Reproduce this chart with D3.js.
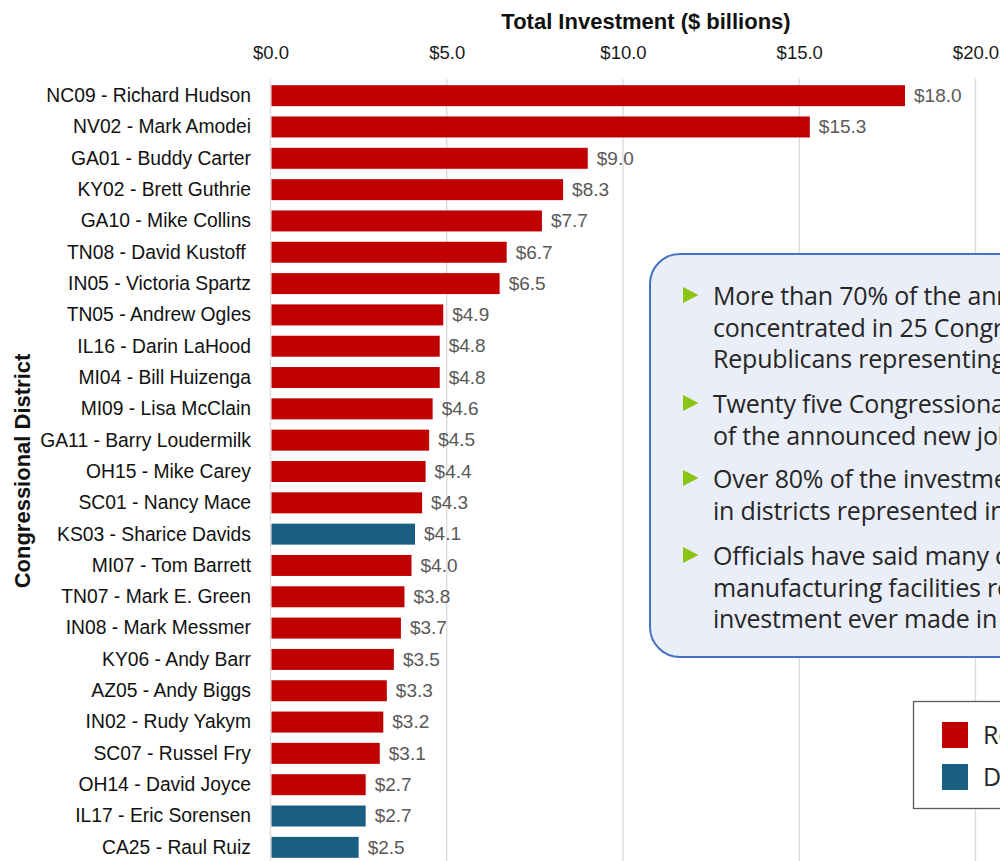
<!DOCTYPE html>
<html>
<head>
<meta charset="utf-8">
<script src="https://cdn.jsdelivr.net/npm/d3@7"></script>
<style>
  body { margin: 0; background: #fff; }
  svg { display: block; }
</style>
</head>
<body>
<script>
// district labels, top to bottom
var districts = [
  "NC09 - Richard Hudson", "NV02 - Mark Amodei", "GA01 - Buddy Carter", "KY02 - Brett Guthrie",
  "GA10 - Mike Collins", "TN08 - David Kustoff ", "IN05 - Victoria Spartz", "TN05 - Andrew Ogles",
  "IL16 - Darin LaHood", "MI04 - Bill Huizenga", "MI09 - Lisa McClain", "GA11 - Barry Loudermilk",
  "OH15 - Mike Carey", "SC01 - Nancy Mace", "KS03 - Sharice Davids", "MI07 - Tom Barrett",
  "TN07 - Mark E. Green", "IN08 - Mark Messmer", "KY06 - Andy Barr", "AZ05 - Andy Biggs",
  "IN02 - Rudy Yakym", "SC07 - Russel Fry", "OH14 - David Joyce", "IL17 - Eric Sorensen",
  "CA25 - Raul Ruiz"
];
// total investment, $ billions
var investment = [18.0, 15.3, 9.0, 8.3, 7.7, 6.7, 6.5, 4.9, 4.8, 4.8, 4.6, 4.5, 4.4, 4.3, 4.1,
  4.0, 3.8, 3.7, 3.5, 3.3, 3.2, 3.1, 2.7, 2.7, 2.5];
var party = ["R", "R", "R", "R", "R", "R", "R", "R", "R", "R", "R", "R", "R", "R", "D",
  "R", "R", "R", "R", "R", "R", "R", "R", "D", "D"];
var xTicks = [0, 5, 10, 15, 20];
var legendItems = [{ key: "R", name: "Republican" }, { key: "D", name: "Democrat" }];
var bullets = [
  ["More than 70% of the announced investment is", "concentrated in 25 Congressional districts, with",
   "Republicans representing 22 of them"],
  ["Twenty five Congressional districts account for most", "of the announced new jobs"],
  ["Over 80% of the investment is located", "in districts represented in Congress by Republicans"],
  ["Officials have said many of these", "manufacturing facilities represent the largest", "investment ever made in their communities"]
];

var W = 1000, H = 861;
var color = d3.scaleOrdinal().domain(["R", "D"]).range(["#c00000", "#1a5f82"]);

var svg = d3.select("body").append("svg")
  .attr("width", W)
  .attr("height", H);

var x = d3.scaleLinear().domain([0, 20]).range([270.5, 975.5]);
var y = d3.scaleBand().domain(districts).range([80, 863]).paddingInner(0.33).paddingOuter(0.165);

var rows = districts.map(function (d, i) {
  return { name: d, value: investment[i], party: party[i] };
});

// gridlines
svg.append("g").selectAll("line")
  .data(xTicks)
  .enter().append("line")
  .attr("x1", function (d) { return x(d); })
  .attr("x2", function (d) { return x(d); })
  .attr("y1", 79)
  .attr("y2", H)
  .attr("stroke", "#d9d9d9")
  .attr("stroke-width", 1.3);

// top axis
var xAxis = d3.axisTop(x).tickValues(xTicks).tickSize(0).tickPadding(0)
  .tickFormat(function (d) { return "$" + d3.format(".1f")(d); });
svg.append("g")
  .attr("transform", "translate(0,59)")
  .call(xAxis)
  .call(function (g) { g.select(".domain").remove(); })
  .selectAll("text")
  .attr("font-family", "Liberation Sans, Arial, sans-serif")
  .attr("font-size", 18.5)
  .attr("fill", "#1a1a1a");

svg.append("text")
  .attr("x", 646)
  .attr("y", 29)
  .attr("text-anchor", "middle")
  .attr("font-family", "Liberation Sans, Arial, sans-serif")
  .attr("font-weight", "bold")
  .attr("font-size", 22)
  .attr("fill", "#111")
  .text("Total Investment ($ billions)");

svg.append("text")
  .attr("transform", "translate(30,471) rotate(-90)")
  .attr("text-anchor", "middle")
  .attr("font-family", "Liberation Sans, Arial, sans-serif")
  .attr("font-weight", "bold")
  .attr("font-size", 22)
  .attr("fill", "#111")
  .text("Congressional District");

// bars
var bar = svg.append("g").selectAll("g")
  .data(rows)
  .enter().append("g");

bar.append("rect")
  .attr("x", x(0) + 1)
  .attr("y", function (d) { return y(d.name); })
  .attr("width", function (d) { return x(d.value) - x(0) - 1; })
  .attr("height", y.bandwidth())
  .attr("fill", function (d) { return color(d.party); });

bar.append("text")
  .attr("x", function (d) { return x(d.value) + 9; })
  .attr("y", function (d) { return y(d.name) + y.bandwidth() / 2; })
  .attr("dy", "0.33em")
  .attr("font-family", "Liberation Sans, Arial, sans-serif")
  .attr("font-size", 19)
  .attr("fill", "#595959")
  .text(function (d) { return "$" + d3.format(".1f")(d.value); });

bar.append("text")
  .attr("x", 251)
  .attr("y", function (d) { return y(d.name) + y.bandwidth() / 2; })
  .attr("dy", "0.33em")
  .attr("text-anchor", "end")
  .attr("font-family", "Liberation Sans, Arial, sans-serif")
  .attr("font-size", 19.3)
  .attr("fill", "#111")
  .style("white-space", "pre")
  .text(function (d) { return d.name; });

// callout box
var callout = svg.append("g");
callout.append("rect")
  .attr("x", 650)
  .attr("y", 254)
  .attr("width", 420)
  .attr("height", 403)
  .attr("rx", 30)
  .attr("fill", "#eaeef8")
  .attr("stroke", "#4472c4")
  .attr("stroke-width", 2);

var bulletTop = [305, 413, 488, 565];
var lineGap = 31.6;
bullets.forEach(function (lines, i) {
  var by = bulletTop[i];
  callout.append("path")
    .attr("d", "M683," + (by - 18) + "L698.5," + (by - 10) + "L683," + (by - 2) + "Z")
    .attr("fill", "#8cc414");
  var t = callout.append("text")
    .attr("font-family", "Open Sans, sans-serif")
    .attr("font-size", 25)
    .attr("letter-spacing", -0.2)
    .attr("fill", "#262626");
  lines.forEach(function (line, j) {
    t.append("tspan")
      .attr("x", 713)
      .attr("y", by + j * lineGap)
      .text(line);
  });
});

// legend
var legend = svg.append("g");
legend.append("rect")
  .attr("x", 913.5)
  .attr("y", 701.5)
  .attr("width", 120)
  .attr("height", 107)
  .attr("fill", "#fff")
  .attr("stroke", "#595959")
  .attr("stroke-width", 1.3);

var item = legend.selectAll("g.item")
  .data(legendItems)
  .enter().append("g")
  .attr("class", "item")
  .attr("transform", function (d, i) { return "translate(942," + (722 + i * 42) + ")"; });
item.append("rect")
  .attr("width", 26)
  .attr("height", 26)
  .attr("fill", function (d) { return color(d.key); });
item.append("text")
  .attr("x", 41)
  .attr("y", 13)
  .attr("dy", "0.36em")
  .attr("font-family", "Open Sans, sans-serif")
  .attr("font-size", 25)
  .attr("letter-spacing", -0.2)
  .attr("fill", "#262626")
  .text(function (d) { return d.name; });
</script>
</body>
</html>
